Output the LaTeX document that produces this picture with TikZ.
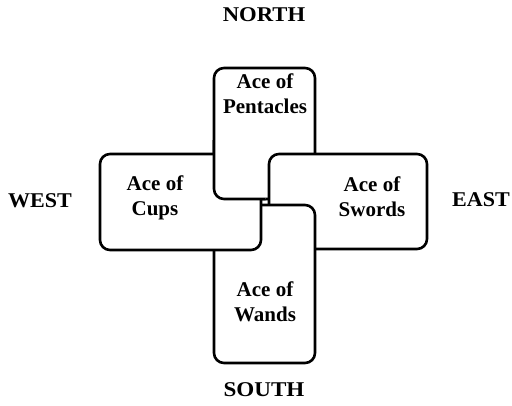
\documentclass[tikz,border=0pt]{standalone}
\usepackage{fontspec}
\setmainfont{Liberation Serif}
\begin{document}
\begin{tikzpicture}[x=1pt,y=-1pt,
  card/.style={draw=black, fill=white, line width=2.6pt, rounded corners=10pt, inner sep=0pt},
  cardtext/.style={font=\bfseries\fontsize{21}{25}\selectfont, align=center, inner sep=0pt},
  dirtext/.style={font=\bfseries\fontsize{21}{25}\selectfont, inner sep=0pt}]
\useasboundingbox (0,0) rectangle (512,405);
% cards: painter's order with a cyclic overlap
\node[card, minimum width=101pt, minimum height=131pt] (north) at (264.5,133.5) {};
\node[card, minimum width=158pt, minimum height=95pt] (east) at (348,201.5) {};
\node[card, minimum width=101pt, minimum height=158pt] (south) at (264.5,284) {};
\node[card, minimum width=161pt, minimum height=96pt] (west) at (180.5,202) {};
\begin{scope}
  \clip (90,140) rectangle (265.5,202);
  \node[card, minimum width=101pt, minimum height=131pt] (northtop) at (264.5,133.5) {};
\end{scope}
% card texts
\node[cardtext] (tnorth) at (265,94) {Ace of\\Pentacles};
\node[cardtext] (twest) at (155,198) {Ace of\\Cups};
\node[cardtext] (teast) at (372,197) {Ace of\\Swords};
\node[cardtext] (tsouth) at (265,302) {Ace of\\Wands};
% directions
\node[dirtext] (lnorth) at (264,15) {\scalebox{1.08}[1]{NORTH}};
\node[dirtext] (lwest) at (40,201) {\scalebox{1.05}[1]{WEST}};
\node[dirtext] (least) at (481,200) {\scalebox{1.05}[1]{EAST}};
\node[dirtext] (lsouth) at (264,390) {\scalebox{1.1}[1]{SOUTH}};
\end{tikzpicture}
\end{document}
